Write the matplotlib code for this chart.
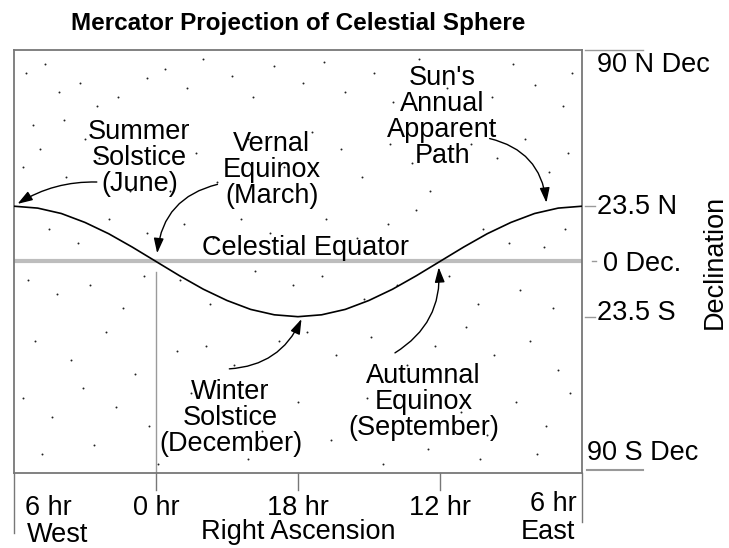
import matplotlib
matplotlib.use("Agg")
import matplotlib.pyplot as plt

plt.rcParams['font.family'] = ['Liberation Sans', 'DejaVu Sans']

# hour positions along the map (0 = left edge) and sun declination
path_pos = list(range(25))
path_dec = [23.5, 22.7, 20.4, 16.6, 11.8, 6.1, 0.0, -6.1, -11.8, -16.6, -20.4, -22.7, -23.5,
            -22.7, -20.4, -16.6, -11.8, -6.1, 0.0, 6.1, 11.8, 16.6, 20.4, 22.7, 23.5]

ra_ticks = [0, 6, 12, 18, 24]
ra_labels = ['6 hr', '0 hr', '18 hr', '12 hr', '6 hr']
dec_labels = ['90 N Dec', '23.5 N', '0 Dec.', '23.5 S', '90 S Dec']

# background stars (hand placed)
star_ra = [0.5, 1.3, 1.9, 2.8, 3.5, 0.8, 2.1, 3.0, 4.4, 5.6, 6.4, 7.3, 8.0, 9.2, 10.1, 11.0, 12.2,
           13.1, 14.0, 15.2, 16.0, 17.1, 18.3, 19.0, 20.2, 21.1, 22.0, 23.2, 23.6, 0.4, 1.1, 2.2,
           3.6, 4.9, 6.6, 7.7, 8.6, 9.9, 11.4, 12.6, 13.8, 14.7, 15.9, 16.8, 17.6, 19.3, 20.4,
           21.6, 22.6, 23.4, 1.5, 2.7, 4.0, 5.6, 7.2, 8.4, 9.6, 10.8, 13.2, 14.5, 15.8, 17.0,
           19.8, 20.9, 22.4, 23.3, 0.6, 1.8, 3.2, 4.6, 5.5, 7.0, 8.3, 10.2, 11.8, 13.0, 14.8,
           16.2, 18.4, 19.6, 21.4, 22.8, 0.9, 2.4, 3.9, 5.1, 6.9, 8.1, 9.3, 11.2, 12.4, 13.6,
           15.1, 16.6, 17.8, 19.1, 20.3, 21.8, 23.0, 0.4, 1.6, 2.9, 4.3, 5.7, 7.5, 8.8, 10.5,
           12.0, 13.4, 14.9, 16.3, 17.5, 18.9, 20.0, 21.2, 22.5, 23.5, 1.2, 3.4, 6.1, 9.9, 15.6,
           19.7, 22.1]
star_dec = [80, 84, 72, 76, 66, 58, 60, 52, 70, 78, 82, 74, 86, 79, 70, 83, 76, 85, 72, 80, 68,
            86, 74, 81, 70, 84, 75, 66, 80, 40, 48, 36, 44, 30, 30, 46, 34, 52, 40, 55, 48, 36,
            50, 42, 30, 50, 44, 52, 38, 46, 14, 8, 18, 12, 16, 10, 18, 12, 18, 10, 16, 22, 14, 8,
            6, 14, -8, -14, -10, -20, -6, -8, -18, -4, -10, -6, -16, -10, -6, -18, -12, -20, -34,
            -42, -30, -48, -38, -36, -44, -34, -30, -40, -32, -44, -36, -28, -40, -34, -46, -58,
            -66, -54, -62, -70, -56, -64, -72, -60, -76, -58, -68, -80, -64, -74, -60, -70, -56,
            -82, -78, -86, -84, -86, -84, -82]

fig = plt.figure(figsize=(7.29, 5.48), dpi=100)
ax = fig.add_axes([0.0192, 0.1369, 0.779, 0.772])
ax.set_xlim(0, 24)
ax.set_ylim(-90, 90)
ax.set_xticks([])
ax.set_yticks([])
for s in ax.spines.values():
    s.set_color('#777777')
    s.set_linewidth(1.3)

ax.scatter(star_ra, star_dec, s=2.0, color='#222222', linewidths=0, zorder=1)

# celestial equator and sun path
ax.axhline(0, color='#bdbdbd', lw=3, zorder=2)
ax.plot([6, 6], [-4.5, -90], color='#9a9a9a', lw=1, zorder=2)
ax.plot(path_pos, path_dec, color='black', lw=1.2, zorder=3)

fs = 19.5
ax.text(12.3, 5.8, 'Celestial Equator', fontsize=fs, ha='center', va='center')

notes = [
    ('Summer\nSolstice\n(June)', (5.3, 44.0), (3.5, 33.8), (0.15, 24.5), 0.15),
    ('Vernal\nEquinox\n(March)', (10.9, 38.9), (8.6, 32.8), (6.05, 3.5), 0.35),
    ("Sun's\nAnnual\nApparent\nPath", (18.1, 61.5), (20.1, 52.3), (22.5, 25.0), -0.35),
    ('Winter\nSolstice\n(December)', (9.15, -66.6), (9.1, -45.7), (12.15, -24.5), 0.3),
    ('Autumnal\nEquinox\n(September)', (17.3, -59.8), (16.1, -38.9), (17.95, -2.5), 0.3),
]
for label, tpos, start, tip, rad in notes:
    ax.text(tpos[0], tpos[1], label, fontsize=fs, ha='center', va='center',
            linespacing=1.0, zorder=4)
    ax.annotate('', xy=tip, xytext=start,
                arrowprops=dict(arrowstyle='-|>,head_length=0.9,head_width=0.3',
                                color='black', lw=1, shrinkA=0, shrinkB=0,
                                connectionstyle=f'arc3,rad={rad}'),
                zorder=5)

# right-side declination ticks and labels
ax.plot([24.12, 26.57], [90, 90], color='#999999', lw=1, clip_on=False)
ax.plot([24.2, 26.57], [-88.7, -88.7], color='#999999', lw=1.5, clip_on=False)
for d in [23.5, -23.5]:
    ax.plot([24.12, 24.55], [d, d], color='#999999', lw=1, clip_on=False)
ax.plot([24.42, 24.6], [0, 0], color='#999999', lw=1, clip_on=False)

ax.text(24.63, 83.6, dec_labels[0], fontsize=fs, ha='left', va='center')
ax.text(24.63, 23.0, dec_labels[1], fontsize=fs, ha='left', va='center')
ax.text(24.88, -1.0, dec_labels[2], fontsize=fs, ha='left', va='center')
ax.text(24.63, -22.0, dec_labels[3], fontsize=fs, ha='left', va='center')
ax.text(24.2, -81.5, dec_labels[4], fontsize=fs, ha='left', va='center')
ax.text(29.6, 0, 'Declination', fontsize=fs, ha='center', va='center', rotation=90)

# bottom right ascension ticks and labels
for x in ra_ticks:
    low = -97.2
    if x == 0:
        low = -115.5
    if x == 24:
        low = -110.8
    ax.plot([x, x], [-90, low], color='#777777', lw=1, clip_on=False)

ax.text(0.46, -104.8, ra_labels[0], fontsize=fs, ha='left', va='center')
ax.text(0.55, -116.4, 'West', fontsize=fs, ha='left', va='center')
for x, lab in zip(ra_ticks[1:4], ra_labels[1:4]):
    ax.text(x, -104.8, lab, fontsize=fs, ha='center', va='center')
ax.text(23.78, -103.0, ra_labels[4], fontsize=fs, ha='right', va='center')
ax.text(23.7, -115.3, 'East', fontsize=fs, ha='right', va='center')
ax.text(12.0, -115.3, 'Right Ascension', fontsize=fs, ha='center', va='center')

fig.text(0.409, 0.958, 'Mercator Projection of Celestial Sphere', fontsize=17.5,
         fontweight='bold', ha='center', va='center')

fig.savefig('out.png', dpi=100)
